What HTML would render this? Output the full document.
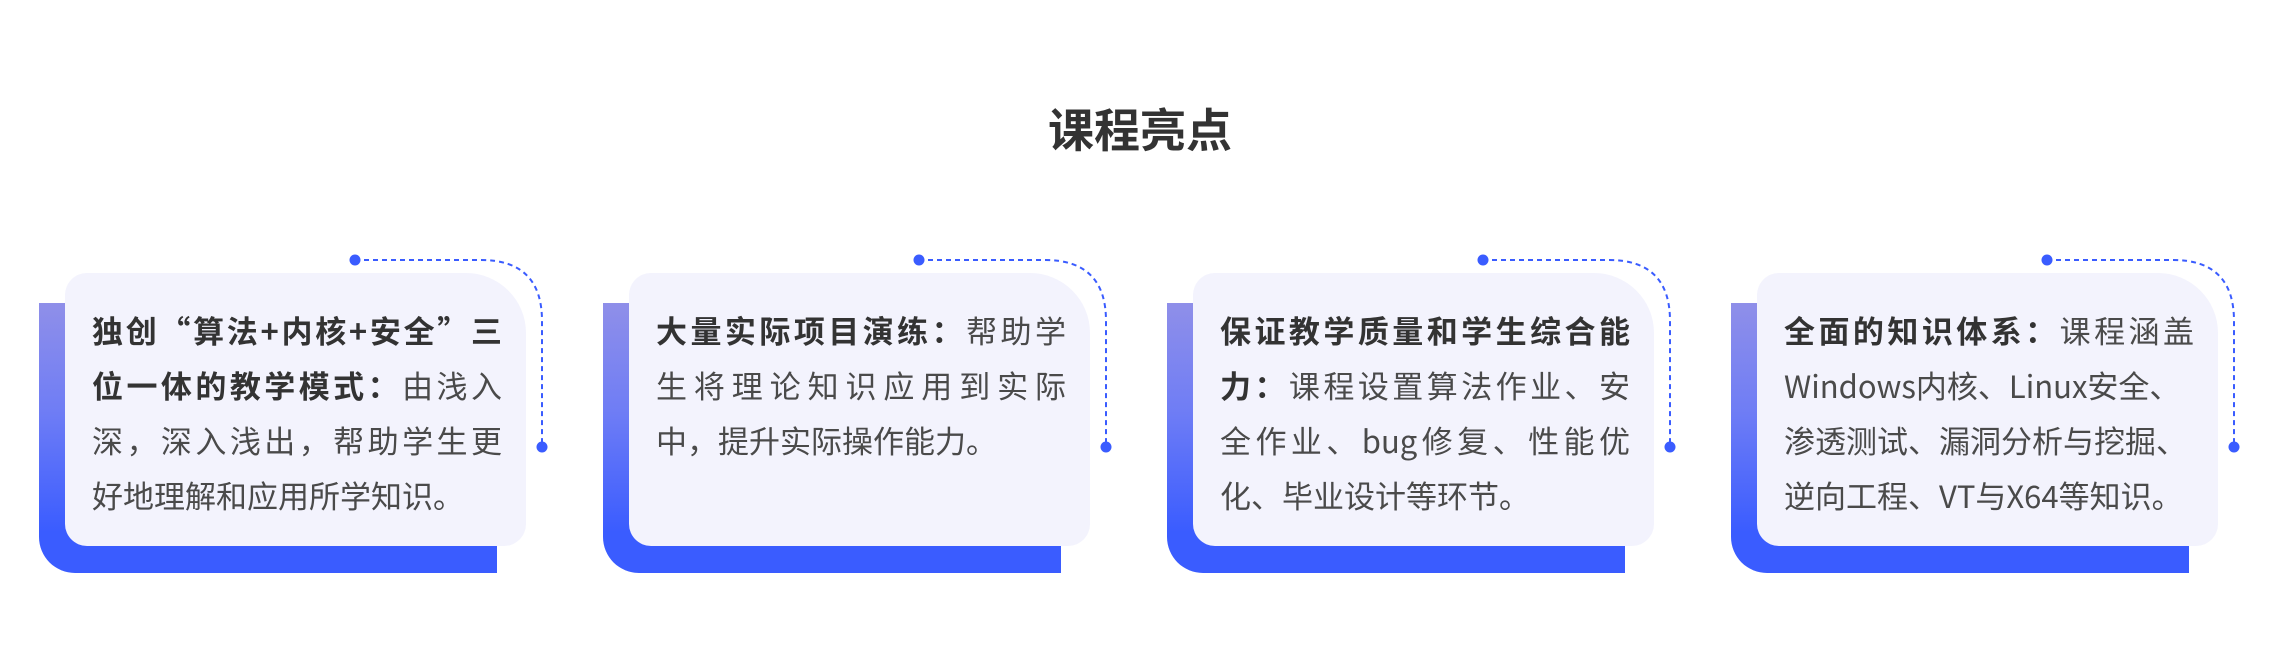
<!DOCTYPE html>
<html><head><meta charset="utf-8"><style>
*{margin:0;padding:0;box-sizing:border-box}
body{width:2280px;height:664px;background:#fff;position:relative;overflow:hidden;font-family:"Noto Sans CJK SC","Liberation Sans",sans-serif}
.title{position:absolute;left:0;width:2280px;top:96px;text-align:center;font-size:46px;font-weight:bold;color:#333;line-height:64px}
.back{position:absolute;top:303px;width:458px;height:270px;border-radius:0 0 0 36px;background:linear-gradient(#8f8fe9,#6f7df5 40%,#3a5cff 85%,#3a5cff)}
.front{position:absolute;top:273px;width:461px;height:273px;background:#f3f3fd;border-radius:22px 60px 22px 22px}
.txt{position:absolute;top:302px;width:410px;font-size:31px;line-height:55px;color:#4a4a4a;white-space:nowrap}
.txt span{display:block;text-align:justify;text-align-last:justify;text-justify:inter-character}
.txt span.l{text-align-last:left}
.txt b{color:#333}
</style></head><body>
<div class="title">课程亮点</div>

<div class="back" style="left:39px"></div>
<div class="front" style="left:65px"></div>
<div class="txt" style="left:92px"><span><b>独创“算法+内核+安全”三</b></span><span><b>位一体的教学模式：</b>由浅入</span><span>深，深入浅出，帮助学生更</span><span class="l">好地理解和应用所学知识。</span></div>

<div class="back" style="left:603px"></div>
<div class="front" style="left:629px"></div>
<div class="txt" style="left:656px"><span><b>大量实际项目演练：</b>帮助学</span><span>生将理论知识应用到实际</span><span class="l">中，提升实际操作能力。</span></div>

<div class="back" style="left:1167px"></div>
<div class="front" style="left:1193px"></div>
<div class="txt" style="left:1220px"><span><b>保证教学质量和学生综合能</b></span><span><b>力：</b>课程设置算法作业、安</span><span>全作业、bug修复、性能优</span><span class="l">化、毕业设计等环节。</span></div>

<div class="back" style="left:1731px"></div>
<div class="front" style="left:1757px"></div>
<div class="txt" style="left:1784px"><span><b>全面的知识体系：</b>课程涵盖</span><span class="l">Windows内核、Linux安全、</span><span class="l">渗透测试、漏洞分析与挖掘、</span><span class="l">逆向工程、VT与X64等知识。</span></div>

<svg width="2280" height="664" style="position:absolute;left:0;top:0">
<g fill="none" stroke="#3a5cff" stroke-width="2" stroke-dasharray="5 4">
<path d="M355 260 H481 Q542 260 542 321 V447"/>
<path d="M919 260 H1045 Q1106 260 1106 321 V447"/>
<path d="M1483 260 H1609 Q1670 260 1670 321 V447"/>
<path d="M2047 260 H2173 Q2234 260 2234 321 V447"/>
</g>
<g fill="#3a5cff">
<circle cx="355" cy="260" r="5.5"/><circle cx="542" cy="447" r="5.5"/>
<circle cx="919" cy="260" r="5.5"/><circle cx="1106" cy="447" r="5.5"/>
<circle cx="1483" cy="260" r="5.5"/><circle cx="1670" cy="447" r="5.5"/>
<circle cx="2047" cy="260" r="5.5"/><circle cx="2234" cy="447" r="5.5"/>
</g>
</svg>
</body></html>
